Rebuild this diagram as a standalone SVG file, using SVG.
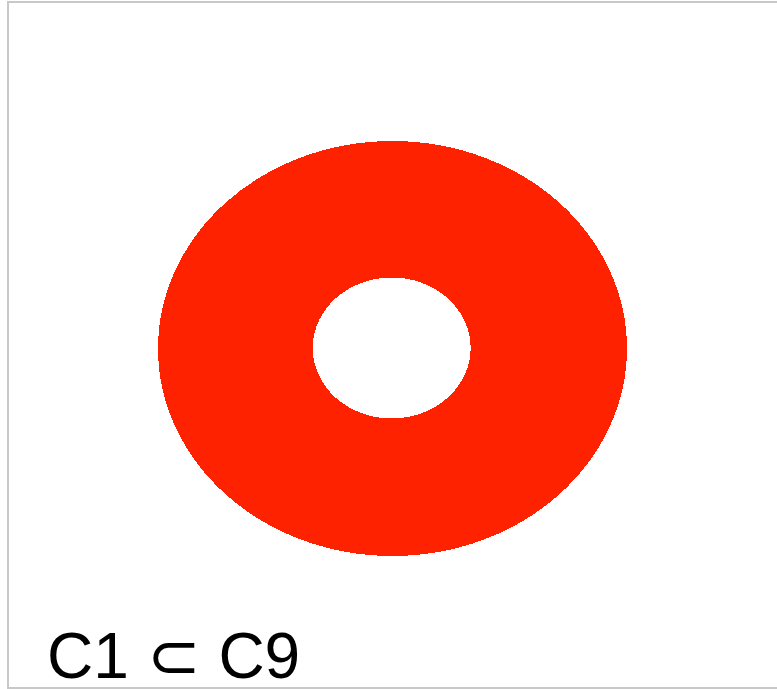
<svg xmlns="http://www.w3.org/2000/svg" width="777" height="689" viewBox="0 0 777 689">
<style>
.frame{fill:none;stroke:#c8c8c8;stroke-width:2}
.ring{fill:#ff2200;fill-rule:evenodd}
.lbl{font-family:"Liberation Sans",Arial,sans-serif;font-size:64px;fill:#000}
</style>
<rect width="777" height="689" fill="#fff"/>
<g id="frame"><path class="frame" d="M8,689 V2 H777 M8,688 H777"/></g>
<g id="ring" shape-rendering="crispEdges">
<path class="ring" d="M158,348.5 a234.5,207.5 0 1,0 469,0 a234.5,207.5 0 1,0 -469,0 Z M312.7,348 a79,70.5 0 1,0 158,0 a79,70.5 0 1,0 -158,0 Z"/>
</g>
<g id="label"><text class="lbl" x="47" y="678">C1 ⊂ C9</text></g>
</svg>
